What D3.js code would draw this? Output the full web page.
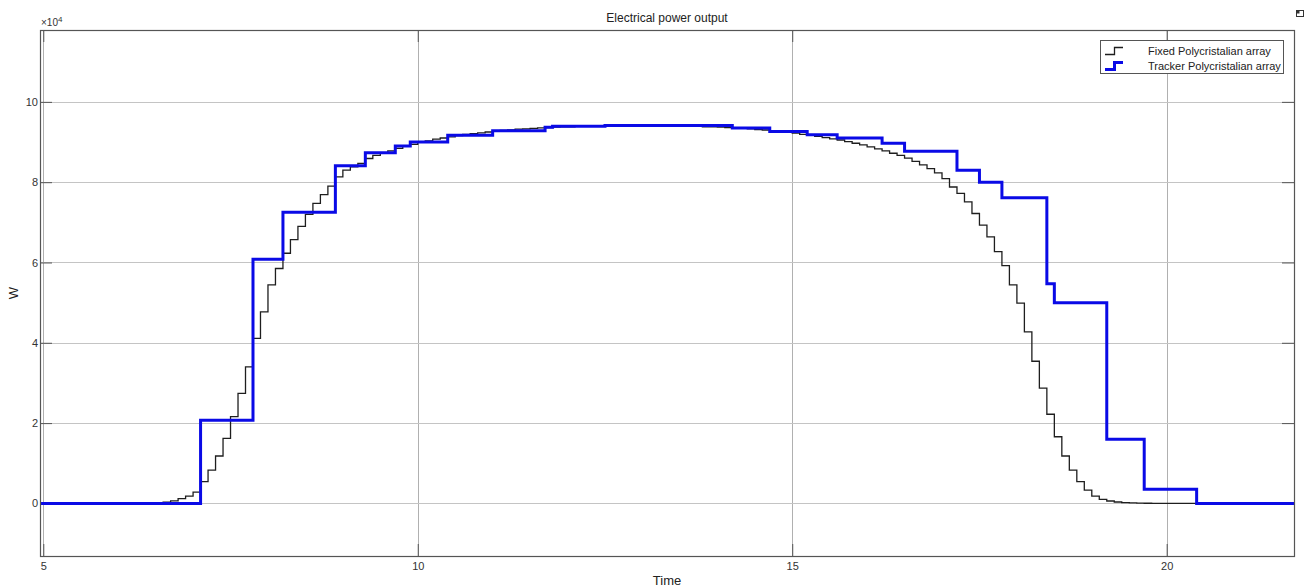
<!DOCTYPE html>
<html>
<head>
<meta charset="utf-8">
<script src="https://cdn.jsdelivr.net/npm/d3@7"></script>
<style>
  body { margin: 0; background: #fff; }
  svg { display: block; }
  text { font-family: "Liberation Sans", Arial, sans-serif; }
</style>
</head>
<body>
<svg id="chart" width="1308" height="588"></svg>
<script>
// ---- data ----------------------------------------------------------------
const chartTitle = "Electrical power output";
const xLabel = "Time";
const yLabel = "W";
const xTicks = [5, 10, 15, 20];
const yTicks = [0, 20000, 40000, 60000, 80000, 100000];
const seriesNames = ["Fixed Polycristalian array", "Tracker Polycristalian array"];

// Fixed array: sampled every 0.1 h from 6.4 h to 20.0 h (W)
const fixedStart = 6.4;
const fixedPeriod = 0.1;
const fixedPower = [
  0, 100, 300, 650, 1200, 1800,
  2800, 5400, 8300, 11800, 16200, 21600, 27400, 34000, 41100, 47700,
  54400, 58500, 62300, 65700, 69000, 72000, 74700, 76900, 79000, 81300,
  83000, 83800, 84700, 85900, 86700, 87200, 87800, 88400, 88900, 89400,
  89900, 90300, 90700, 91000, 91300, 91600, 91900, 92100, 92300, 92500,
  92700, 92900, 93000, 93200, 93300, 93400, 93500, 93600, 93700, 93800,
  93800, 93900, 93900, 94000, 94000, 94000, 94100, 94100, 94100, 94100,
  94100, 94100, 94100, 94000, 94000, 94000, 93900, 93900, 93800, 93800,
  93700, 93600, 93500, 93400, 93300, 93100, 93000, 92800, 92600, 92400,
  92200, 91900, 91700, 91400, 91100, 90800, 90500, 90100, 89700, 89300,
  88800, 88300, 87800, 87200, 86700, 86000, 85200, 84300, 83400, 82300,
  80900, 78800, 77200, 75100, 72200, 69300, 66400, 62700, 59200, 54400,
  49900, 42700, 35400, 28700, 22200, 16600, 11800, 8300, 5400, 3300,
  1800, 1000, 600, 350, 200, 120, 70, 40, 20, 10,
  0
];

// Tracker array: instants where the held value changes (h) and the value (W)
const trackerTimes = [7.1, 7.8, 8.2, 8.9, 9.3, 9.7, 9.9, 10.4, 11.0, 11.7, 11.8, 12.5,
                      14.2, 14.7, 15.2, 15.6, 16.2, 16.5, 17.2, 17.5, 17.8, 18.4, 18.5,
                      19.2, 19.7, 20.4];
const trackerPower = [20700, 60800, 72500, 84100, 87300, 89000, 90000, 91700, 92800, 93700, 93900, 94100,
                      93500, 92600, 91800, 91000, 89700, 87700, 83000, 80000, 76100, 54700, 50000,
                      16000, 3500, 0];

// ---- layout ----------------------------------------------------------------
const svg = d3.select("#chart");
const box = { left: 40, top: 30, right: 1294, bottom: 556 };
const xDomain = [4.956, 21.70];
const yDomain = [-13100, 117900];

const x = d3.scaleLinear().domain(xDomain).range([box.left, box.right]);
const y = d3.scaleLinear().domain(yDomain).range([box.bottom, box.top]);

const gridColor = "#c4c4c4";
const axisColor = "#555";
const textColor = "#333";

// gridlines
const grid = svg.append("g");
grid.selectAll("line.gx").data(xTicks).join("line")
  .attr("x1", d => Math.round(x(d)) + 0.5).attr("x2", d => Math.round(x(d)) + 0.5)
  .attr("y1", box.top).attr("y2", box.bottom)
  .attr("stroke", "#b0b0b0").attr("stroke-width", 1);
grid.selectAll("line.gy").data(yTicks).join("line")
  .attr("y1", d => Math.round(y(d)) + 0.5).attr("y2", d => Math.round(y(d)) + 0.5)
  .attr("x1", box.left).attr("x2", box.right)
  .attr("stroke", gridColor).attr("stroke-width", 1);

// axes (ticks pointing inward, on all four sides)
const tickLen = 12;
const fmtY = d => d3.format("d")(d / 1e4);
const axB = svg.append("g").attr("transform", `translate(0,${box.bottom})`)
  .call(d3.axisBottom(x).tickValues(xTicks).tickSizeInner(-tickLen).tickSizeOuter(0).tickPadding(6));
const axT = svg.append("g").attr("transform", `translate(0,${box.top})`)
  .call(d3.axisTop(x).tickValues(xTicks).tickSizeInner(-tickLen).tickSizeOuter(0).tickFormat(""));
const axL = svg.append("g").attr("transform", `translate(${box.left},0)`)
  .call(d3.axisLeft(y).tickValues(yTicks).tickSizeInner(-tickLen).tickSizeOuter(0).tickPadding(2).tickFormat(fmtY));
const axR = svg.append("g").attr("transform", `translate(${box.right},0)`)
  .call(d3.axisRight(y).tickValues(yTicks).tickSizeInner(-tickLen).tickSizeOuter(0).tickFormat(""));
[axB, axT, axL, axR].forEach(a => {
  a.select(".domain").remove();
  a.selectAll(".tick line").attr("stroke", axisColor);
  a.selectAll("text").attr("fill", textColor).attr("font-size", 11);
});

// clip for the data
svg.append("clipPath").attr("id", "plotClip").append("rect")
  .attr("x", box.left).attr("y", box.top)
  .attr("width", box.right - box.left).attr("height", box.bottom - box.top);

const stepLine = d3.line().curve(d3.curveStepAfter).x(d => x(d[0])).y(d => y(d[1]));

const fixedPts = [[xDomain[0], 0]]
  .concat(fixedPower.map((v, i) => [+(fixedStart + i * fixedPeriod).toFixed(2), v]))
  .concat([[xDomain[1], fixedPower[fixedPower.length - 1]]]);
const trackerPts = [[xDomain[0], 0]]
  .concat(trackerTimes.map((t, i) => [t, trackerPower[i]]))
  .concat([[xDomain[1], trackerPower[trackerPower.length - 1]]]);

const plot = svg.append("g").attr("clip-path", "url(#plotClip)");
plot.append("path").datum(fixedPts).attr("d", stepLine)
  .attr("fill", "none").attr("stroke", "#1e1e1e").attr("stroke-width", 1.3);
plot.append("path").datum(trackerPts).attr("d", stepLine)
  .attr("fill", "none").attr("stroke", "#0a0ae6").attr("stroke-width", 3)
  .attr("stroke-linejoin", "miter");

// plot frame
svg.append("rect")
  .attr("x", box.left + 0.5).attr("y", box.top + 0.5)
  .attr("width", box.right - box.left).attr("height", box.bottom - box.top)
  .attr("fill", "none").attr("stroke", axisColor).attr("stroke-width", 1.2);

// exponent marker
const expo = svg.append("text").attr("x", box.left + 1).attr("y", 26)
  .attr("fill", textColor).attr("font-size", 10);
expo.append("tspan").text("\u00d710");
expo.append("tspan").attr("dy", -4).attr("font-size", 8).text("4");

// titles
svg.append("text").attr("x", (box.left + box.right) / 2).attr("y", 22)
  .attr("text-anchor", "middle").attr("fill", "#222").attr("font-size", 12).text(chartTitle);
svg.append("text").attr("x", (box.left + box.right) / 2).attr("y", 585)
  .attr("text-anchor", "middle").attr("fill", "#222").attr("font-size", 13).text(xLabel);
svg.append("text").attr("transform", `translate(18,${(box.top + box.bottom) / 2}) rotate(-90)`)
  .attr("text-anchor", "middle").attr("fill", "#222").attr("font-size", 13).text(yLabel);

// legend
const lg = svg.append("g");
lg.append("rect").attr("x", 1100.5).attr("y", 40.5).attr("width", 183).attr("height", 33)
  .attr("fill", "#fff").attr("stroke", axisColor).attr("stroke-width", 1);
const legendStyles = [
  { color: "#1e1e1e", width: 1.3 },
  { color: "#0a0ae6", width: 3 }
];
seriesNames.forEach((name, i) => {
  const cy = 51 + i * 15;
  lg.append("path")
    .attr("d", `M1105,${cy + 3.5}H1114.5V${cy - 3.5}H1123`)
    .attr("fill", "none").attr("stroke", legendStyles[i].color).attr("stroke-width", legendStyles[i].width);
  lg.append("text").attr("x", 1148).attr("y", cy + 4)
    .attr("fill", "#222").attr("font-size", 11).text(name);
});

// small window icon in the corner
const ic = svg.append("g").attr("transform", "translate(1296,10)");
ic.append("rect").attr("x", 0.5).attr("y", 0.5).attr("width", 7).attr("height", 6)
  .attr("fill", "none").attr("stroke", "#333").attr("stroke-width", 1);
ic.append("rect").attr("x", 0.5).attr("y", 0.5).attr("width", 3).attr("height", 3).attr("fill", "#333");
</script>
</body>
</html>
